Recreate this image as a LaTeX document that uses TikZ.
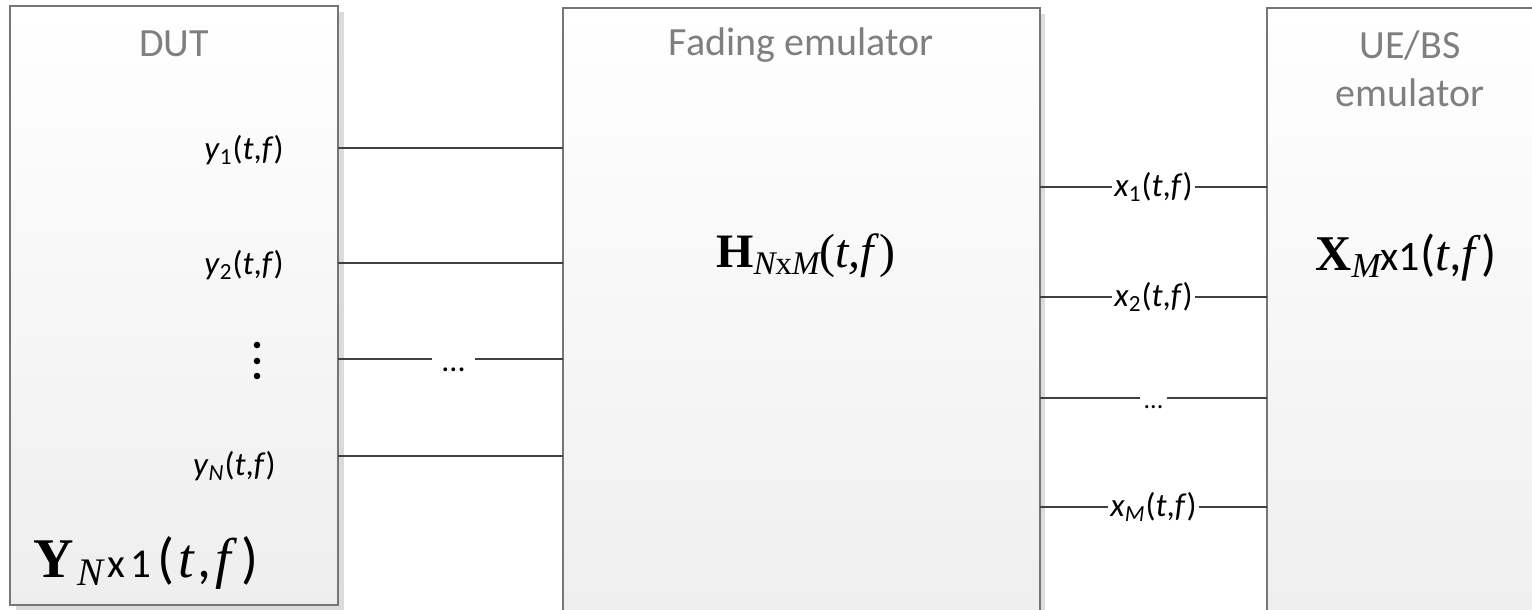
\documentclass[tikz,border=0pt]{standalone}
\usepackage{fontspec}
\setmainfont{Carlito}
\newfontfamily\tnr{Liberation Serif}
\definecolor{boxline}{HTML}{767676}
\definecolor{wire}{HTML}{404040}
\definecolor{titlegray}{HTML}{7F7F7F}
\definecolor{shadowc}{HTML}{DCDCDC}
\definecolor{boxbottom}{HTML}{EEEEEE}
\tikzset{
  box/.style={draw=boxline, line width=0.75pt, top color=white, bottom color=boxbottom, inner sep=0pt, outer sep=0pt, anchor=north west},
  title/.style={text=titlegray, font=\fontsize{20}{24.5}\selectfont, align=center, anchor=base, inner sep=0pt},
  lbl/.style={font=\fontsize{16.5}{19}\selectfont, inner sep=0pt},
  clbl/.style={font=\fontsize{16.5}{19}\selectfont, fill=white, inner xsep=1pt, inner ysep=0pt},
  dotsl/.style={fill=white, inner ysep=1pt, anchor=base},
  big/.style={anchor=base, inner sep=0pt},
  wireline/.style={draw=wire, line width=1pt}
}
\begin{document}
\begin{tikzpicture}[x=0.5pt,y=-0.5pt]
\useasboundingbox (0,0) rectangle (1532,610);
\clip (0,0) rectangle (1532,610);
% shadows
\fill[shadowc] (16,12) rectangle (344,611);
\fill[shadowc] (569,14) rectangle (1045,640);
\fill[shadowc] (1273,14) rectangle (1600,640);
% boxes
\node[box, minimum width=164pt, minimum height=299.5pt] (dut) at (10,6) {};
\node[box, minimum width=238.5pt, minimum height=320pt] (fad) at (563,8) {};
\node[box, minimum width=165pt, minimum height=320pt] (ue) at (1267,8) {};
% titles
\node[title] (tdut) at (174,57) {DUT};
\node[title] (tfad) at (801,56) {Fading emulator};
\node[title] (tue) at (1410,107) {UE/BS\\emulator};
% big labels
\node[big, font=\fontsize{28}{30}\selectfont] (Ylab) at (146,577) {{\tnr\bfseries Y}\kern2pt\raisebox{-0.15em}{\fontsize{19.5}{20}\selectfont\tnr\itshape N}\kern2pt{\fontsize{20.5}{21}\selectfont x\kern2.5pt 1}\kern3pt(\kern2pt{\tnr\itshape t}\kern2pt,\kern2pt{\tnr\itshape f\/}\kern2pt)};
\node[big, font=\fontsize{24}{28}\selectfont] (Hlab) at (806,267) {{\tnr\bfseries H}\raisebox{-0.15em}{\fontsize{16.5}{17}\selectfont\tnr{\itshape N}x{\itshape M}}{\tnr(\itshape t,f\/\upshape)}};
\node[big, font=\fontsize{25}{28}\selectfont] (Xlab) at (1406,270) {{\tnr\bfseries X}\raisebox{-0.15em}{\fontsize{17.5}{18}\selectfont\tnr\itshape M}{\fontsize{21}{21}\selectfont x1}({\tnr\itshape t},{\tnr\itshape f\/})};
% DUT port labels
\node[lbl, anchor=east] (y1) at (284,150) {\textit{y}\textsubscript{1}(\textit{t},\textit{f})};
\node[lbl, anchor=east] (y2) at (284,265) {\textit{y}\textsubscript{2}(\textit{t},\textit{f})};
\node[lbl, anchor=east] (yN) at (276,466) {\textit{y}\textsubscript{\textit{N}}(\textit{t},\textit{f})};
\fill (257,345) circle[radius=1.65pt];
\fill (257,361) circle[radius=1.65pt];
\fill (257,376) circle[radius=1.65pt];
% dots nodes on the middle wires
\node[dotsl, font=\fontsize{16}{19}\selectfont, inner xsep=4.25pt] (ldots) at (453.5,371) {...};
\node[dotsl, font=\fontsize{13}{15}\selectfont, inner xsep=1.75pt] (rdots) at (1153.5,408) {...};
% left wires
\draw[wireline] (dut.east |- 0,148) -- (fad.west |- 0,148);
\draw[wireline] (dut.east |- 0,263) -- (fad.west |- 0,263);
\draw[wireline] (dut.east |- 0,359) -- (ldots.west |- 0,359);
\draw[wireline] (ldots.east |- 0,359) -- (fad.west |- 0,359);
\draw[wireline] (dut.east |- 0,456) -- (fad.west |- 0,456);
% right wires
\draw[wireline] (fad.east |- 0,187) -- node[clbl] (x1) {\textit{x}\textsubscript{1}(\textit{t},\textit{f})} (ue.west |- 0,187);
\draw[wireline] (fad.east |- 0,297) -- node[clbl] (x2) {\textit{x}\textsubscript{2}(\textit{t},\textit{f})} (ue.west |- 0,297);
\draw[wireline] (fad.east |- 0,398) -- (rdots.west |- 0,398);
\draw[wireline] (rdots.east |- 0,398) -- (ue.west |- 0,398);
\draw[wireline] (fad.east |- 0,507) -- node[clbl] (xM) {\textit{x}\textsubscript{\textit{M}}(\textit{t},\textit{f})} (ue.west |- 0,507);
\end{tikzpicture}
\end{document}
